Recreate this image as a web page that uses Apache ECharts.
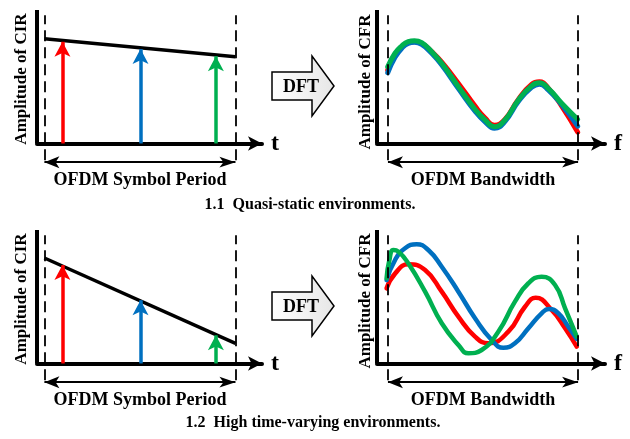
<!DOCTYPE html>
<html>
<head>
<meta charset="utf-8">
<script src="https://cdn.jsdelivr.net/npm/echarts@6/dist/echarts.min.js"></script>
<style>
  html, body { margin: 0; padding: 0; background: #fff; }
  #chart { width: 630px; height: 439px; }
</style>
</head>
<body>
<div id="chart"></div>
<script>
// ---- data (axis units: x 0..10, y -3..10, x axis at y = 0) ----
var arrowX = [1.13, 4.6, 7.95];             // tap positions in the symbol
var arrowStatic = [7.62, 7.07, 6.54];       // CIR tap heights (arrow tips), quasi-static
var arrowVarying = [7.37, 4.74, 2.11];      // CIR tap heights (arrow tips), time-varying
var envX = [0.33, 8.82];                    // ends of the black envelope
var envStatic = [7.85, 6.5];
var envVarying = [7.9, 1.5];
var symbolWin = [0.33, 8.82];               // dashed lines, OFDM symbol
var bandWin = [0.48, 8.82];                 // dashed lines, bandwidth
var arrowColors = ['#ff0000', '#0070c0', '#00b050'];

// quasi-static CFR: three nearly identical curves on one frequency grid
var freqStatic = [0.47, 0.79, 1.08, 1.37, 1.64, 1.96, 2.4, 2.84, 3.57, 4.3, 4.74, 5.15, 5.61, 6.2, 6.78, 7.12, 7.51, 8.1, 8.8];
var cfrStaticRed = [5.5, 6.58, 7.2, 7.55, 7.62, 7.5, 6.88, 6.1, 4.5, 2.8, 1.9, 1.36, 1.8, 3.3, 4.42, 4.62, 4.15, 2.8, 0.85];
var cfrStaticBlue = [5.3, 6.45, 7.12, 7.5, 7.58, 7.42, 6.75, 5.88, 4.12, 2.42, 1.62, 1.14, 1.64, 3.14, 4.2, 4.44, 4.02, 2.9, 1.3];
var cfrStaticGreen = [5.75, 6.76, 7.3, 7.63, 7.7, 7.55, 6.88, 6.01, 4.26, 2.56, 1.76, 1.26, 1.76, 3.26, 4.31, 4.55, 4.13, 3.01, 1.81];

// time-varying CFR [f, amplitude]
var cfrVaryRed = [[0.42, 5.63], [0.8, 6.75], [1.37, 7.43], [2.11, 7.0], [2.84, 5.38], [3.57, 3.51], [4.3, 2.01], [4.88, 1.51], [5.76, 2.38], [6.49, 4.25], [6.96, 4.93], [7.66, 4.01], [8.25, 2.64], [8.76, 1.26]];
var cfrVaryBlue = [[0.42, 6.25], [0.79, 7.75], [1.23, 8.63], [1.74, 8.93], [2.25, 8.5], [2.84, 7.25], [3.57, 5.38], [4.3, 3.39], [5.03, 1.76], [5.54, 1.18], [6.05, 1.51], [6.64, 2.64], [7.22, 3.76], [7.54, 4.08], [7.95, 3.76], [8.39, 2.76], [8.76, 1.84]];
var cfrVaryGreen = [[0.42, 6.38], [0.53, 7.63], [0.72, 8.5], [0.94, 8.38], [1.37, 7.51], [2.11, 5.38], [2.84, 3.01], [3.57, 1.39], [4.01, 0.76], [4.59, 1.01], [5.32, 2.38], [6.05, 4.63], [6.64, 6.01], [7.22, 6.5], [7.81, 5.88], [8.25, 4.13], [8.76, 2.01]];

var serif = '"Liberation Serif", "Times New Roman", serif';

var myChart = echarts.init(document.getElementById('chart'));

var grids = [
  { left: 37, top: 10, width: 225, height: 173.5 },
  { left: 377, top: 10, width: 228, height: 173.5 },
  { left: 37, top: 230, width: 225, height: 173.5 },
  { left: 377, top: 230, width: 228, height: 173.5 }
];
var axisNames = ['t', 'f', 't', 'f'];

var xAxes = grids.map(function (g, i) {
  return {
    gridIndex: i, type: 'value', min: 0, max: 10,
    axisLine: { onZero: true, symbol: ['none', 'arrow'], symbolSize: [11, 14], lineStyle: { color: '#000', width: 4 } },
    axisTick: { show: false }, axisLabel: { show: false }, splitLine: { show: false },
    name: axisNames[i], nameLocation: 'end', nameGap: 9,
    nameTextStyle: { fontFamily: serif, fontWeight: 'bold', fontSize: 24, color: '#000' }
  };
});
var yAxes = grids.map(function (g, i) {
  return {
    gridIndex: i, type: 'value', min: -3, max: 10,
    axisLine: { show: false }, axisTick: { show: false }, axisLabel: { show: false }, splitLine: { show: false }
  };
});

// frame of one panel: y axis line, two dashed window lines and the double arrow
function frame(i, win, label) {
  return {
    type: 'line', xAxisIndex: i, yAxisIndex: i, data: [], silent: true,
    markLine: {
      silent: true, animation: false, symbol: 'none',
      label: { show: false },
      data: [
        [{ coord: [0, 0], lineStyle: { color: '#000', width: 4, type: 'solid' } }, { coord: [0, 10] }],
        [{ coord: [win[0], -1.25], lineStyle: { color: '#000', width: 1.8, type: [11, 6] } }, { coord: [win[0], 9.6] }],
        [{ coord: [win[1], -1.25], lineStyle: { color: '#000', width: 1.8, type: [11, 6] } }, { coord: [win[1], 9.6] }],
        [{
          coord: [win[0], -1.4], symbol: 'arrow', symbolSize: [9, 15],
          lineStyle: { color: '#000', width: 2, type: 'solid' },
          label: {
            show: true, position: 'insideMiddleBottom', distance: 9, formatter: label,
            fontFamily: serif, fontWeight: 'bold', fontSize: 18, color: '#000'
          }
        }, { coord: [win[1], -1.4], symbol: 'arrow' }]
      ]
    }
  };
}

function cir(i, heights, env) {
  var list = [{
    type: 'line', xAxisIndex: i, yAxisIndex: i, symbol: 'none', silent: true,
    data: [[envX[0], env[0]], [envX[1], env[1]]],
    lineStyle: { color: '#000', width: 3.5 }
  }];
  for (var k = 0; k < arrowX.length; k++) {
    list.push({
      type: 'line', xAxisIndex: i, yAxisIndex: i, data: [], silent: true,
      markLine: {
        silent: true, animation: false,
        symbol: ['none', 'arrow'], symbolSize: [12, 15],
        label: { show: false },
        lineStyle: { color: arrowColors[k], width: 3.5, type: 'solid' },
        data: [[{ coord: [arrowX[k], 0] }, { coord: [arrowX[k], heights[k]] }]]
      }
    });
  }
  return list;
}

function zip(xs, ys) {
  return xs.map(function (x, j) { return [x, ys[j]]; });
}

function cfr(i, curves, w) {
  return curves.map(function (c, k) {
    return {
      type: 'line', xAxisIndex: i, yAxisIndex: i, symbol: 'none', silent: true,
      smooth: 0.5, data: c,
      lineStyle: { color: arrowColors[k], width: w, cap: 'round', join: 'round' }
    };
  });
}

var series = [].concat(
  frame(0, symbolWin, 'OFDM Symbol Period'),
  cir(0, arrowStatic, envStatic),
  frame(1, bandWin, 'OFDM Bandwidth'),
  cfr(1, [zip(freqStatic, cfrStaticRed), zip(freqStatic, cfrStaticBlue), zip(freqStatic, cfrStaticGreen)], 5),
  frame(2, symbolWin, 'OFDM Symbol Period'),
  cir(2, arrowVarying, envVarying),
  frame(3, bandWin, 'OFDM Bandwidth'),
  cfr(3, [cfrVaryRed, cfrVaryBlue, cfrVaryGreen], 4.5)
);

function dftArrow(top) {
  return {
    type: 'polygon',
    shape: { points: [[272, top + 16], [312, top + 16], [312, top], [334, top + 30], [312, top + 60], [312, top + 44], [272, top + 44]] },
    style: {
      fill: new echarts.graphic.LinearGradient(0, 0, 1, 0, [
        { offset: 0, color: '#ffffff' }, { offset: 1, color: '#e6e6e6' }
      ]),
      stroke: '#000', lineWidth: 1.5
    }
  };
}
function txt(x, y, s, size, rot) {
  return {
    type: 'text', x: x, y: y, rotation: rot || 0,
    style: { text: s, font: 'bold ' + size + 'px ' + serif, fill: '#000', align: 'center', verticalAlign: 'middle' }
  };
}

var option = {
  animation: false,
  backgroundColor: '#fff',
  grid: grids,
  xAxis: xAxes,
  yAxis: yAxes,
  series: series,
  graphic: [
    dftArrow(56), txt(301, 87, 'DFT', 18),
    dftArrow(276), txt(301, 307, 'DFT', 18),
    txt(22, 79, 'Amplitude of CIR', 17, Math.PI / 2),
    txt(366, 82, 'Amplitude of CFR', 17, Math.PI / 2),
    txt(22, 299, 'Amplitude of CIR', 17, Math.PI / 2),
    txt(366, 301, 'Amplitude of CFR', 17, Math.PI / 2),
    txt(310, 205, '1.1  Quasi-static environments.', 16),
    txt(313, 423, '1.2  High time-varying environments.', 16)
  ]
};

myChart.setOption(option);
</script>
</body>
</html>
